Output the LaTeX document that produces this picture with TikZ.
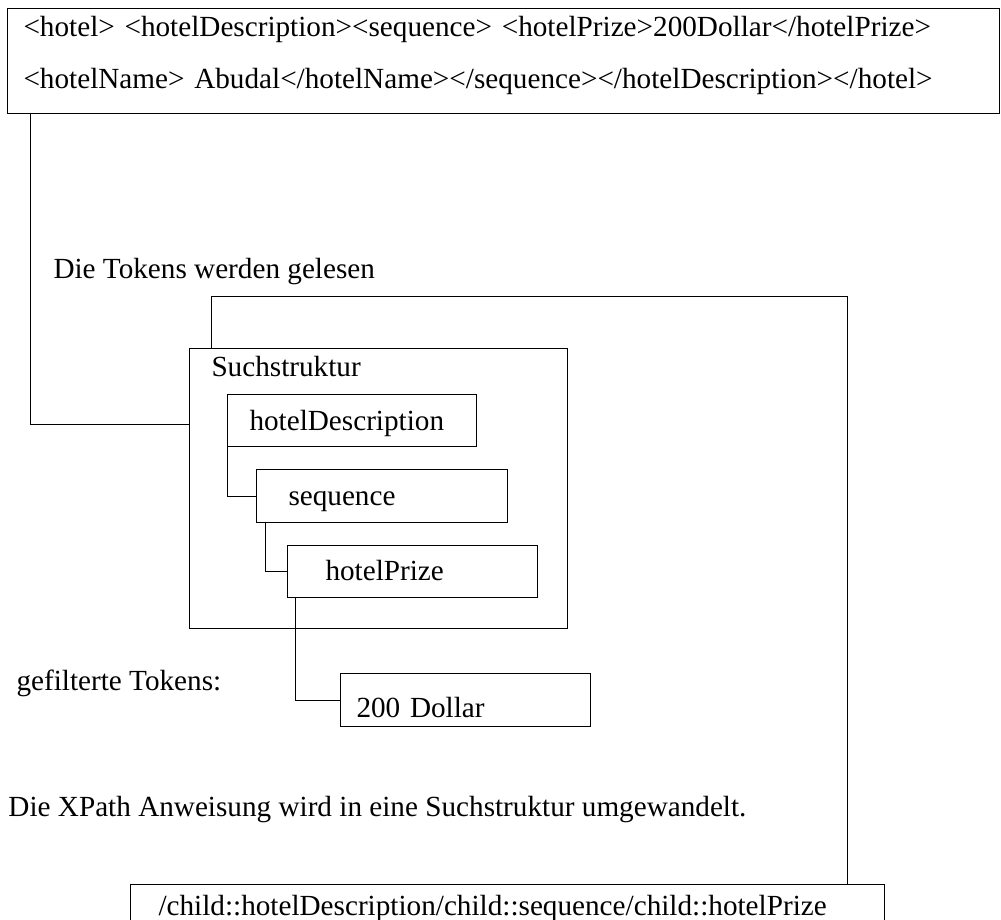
\documentclass[tikz,border=0pt]{standalone}
\usepackage{fontspec}
\setmainfont{Liberation Serif}

\begin{document}
\begin{tikzpicture}[x=1pt, y=-1pt,
    font=\fontsize{29.2}{35}\selectfont,
    line width=1pt,
    box/.style={draw, anchor=north west, inner ysep=0pt, align=left},
    lbl/.style={anchor=west, inner sep=0pt}]

  \useasboundingbox (0,0) rectangle (1001,920);

  % the XML document
  \node[box, inner xsep=16pt, text width=960pt, minimum height=105pt,
        text height=20pt, text depth=69pt] (xml) at (7,8)
    {<hotel> <hotelDescription><sequence> <hotelPrize>200Dollar</hotelPrize>\\[17pt]
     <hotelName> Abudal</hotelName></sequence></hotelDescription></hotel>};

  \node[lbl] (readlbl) at (53,272) {Die Tokens werden gelesen};

  % search structure
  \node[box, inner xsep=22pt, text width=334pt, minimum height=280pt,
        text height=20pt, text depth=244pt] (such) at (189,348) {Suchstruktur};
  \node[box, inner xsep=22pt, text width=205pt, minimum height=52pt,
        text height=27pt, text depth=7pt] (desc) at (227,394) {hotelDescription};
  \node[box, inner xsep=32pt, text width=187pt, minimum height=53pt,
        text height=26pt, text depth=7pt] (seq) at (256,469) {sequence};
  \node[box, inner xsep=38pt, text width=174pt, minimum height=52pt,
        text height=25pt, text depth=7pt] (prize) at (287,545) {hotelPrize};

  \node[lbl] (filtlbl) at (16,683) {gefilterte Tokens:};
  \node[box, inner xsep=16pt, text width=218pt, minimum height=53pt,
        text height=42pt, text depth=7pt] (dollar) at (340,673) {200 Dollar};

  \node[lbl] (convlbl) at (8,810) {Die XPath Anweisung wird in eine Suchstruktur umgewandelt.};

  % the XPath expression
  \node[box, inner xsep=28pt, text width=698pt, minimum height=52pt,
        text height=17pt, text depth=7pt] (xpath) at (130,884)
    {/child::hotelDescription/child::sequence/child::hotelPrize};

  % connections
  \draw ([xshift=23pt]xml.south west) |- ([yshift=64pt]such.west);
  \coordinate (bend) at (847,296);
  \draw ([xshift=22pt]such.north west) |- (bend) -- (bend |- xpath.north);
  \draw (desc.west) |- (seq.west);
  \draw ([xshift=9pt]seq.south west) |- (prize.west);
  \draw ([xshift=8pt]prize.south west) |- (dollar.west);

\end{tikzpicture}
\end{document}
